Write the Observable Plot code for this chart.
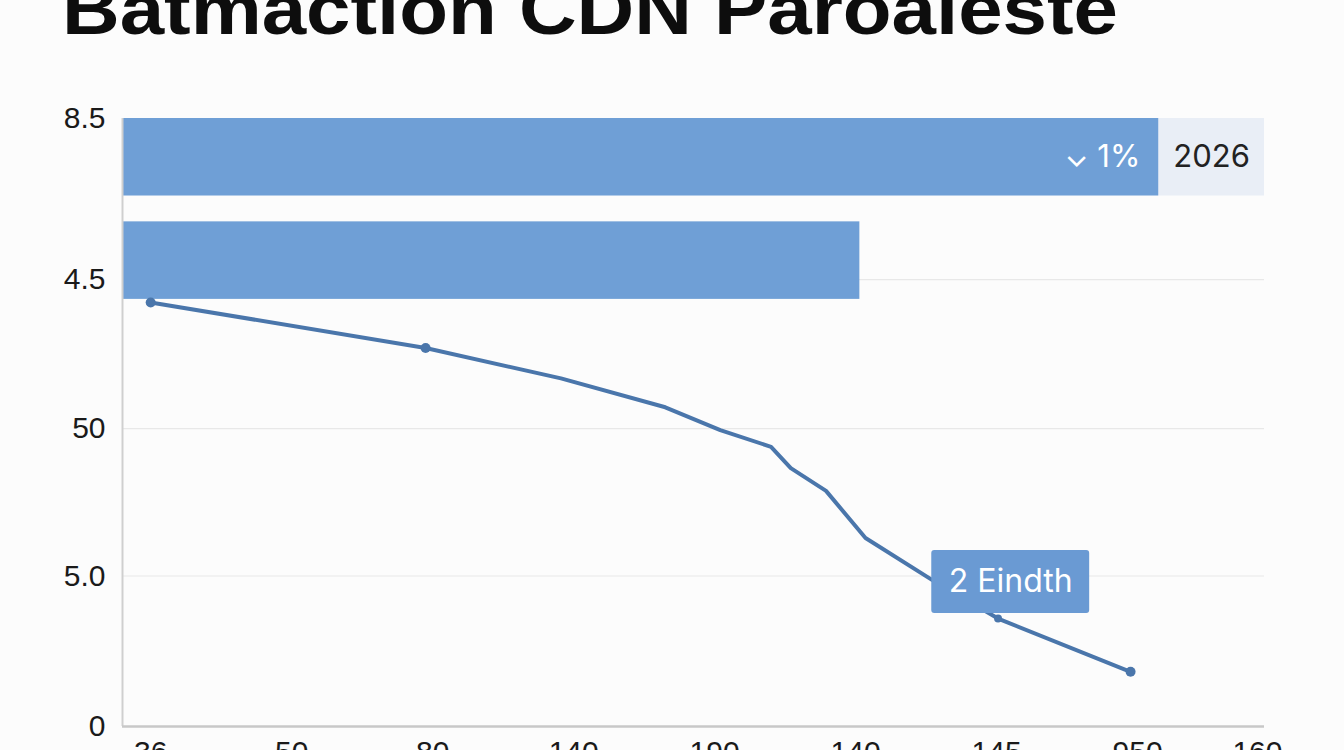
<!DOCTYPE html>
<html>
<head>
<meta charset="utf-8">
<script src="https://cdn.jsdelivr.net/npm/d3@7"></script>
<script src="https://cdn.jsdelivr.net/npm/@observablehq/plot@0.6"></script>
<style>
  html, body { margin: 0; padding: 0; background: #fcfcfc; overflow: hidden; width: 1344px; height: 750px; }
  #wrap { position: relative; width: 1344px; height: 750px; }
  #title { position: absolute; left: 0; top: 0; }
  #chart { position: absolute; left: 0; top: 90px; }
</style>
</head>
<body>
<div id="wrap">
  <svg id="title" width="1344" height="60">
    <text id="titleText" x="62" y="34" font-family="Liberation Sans, Arial, sans-serif" font-weight="bold" font-size="72" fill="#0d0d0d" textLength="1056" lengthAdjust="spacingAndGlyphs"></text>
  </svg>
  <div id="chart"></div>
</div>
<script>
// ---- data ----
const titleText = "Batmaction CDN Paroaleste";

// y axis: tick positions (axis units) and their printed labels
const yTickPos = [0, 0.99, 1.96, 2.94, 4];
const yTickLabels = ["0", "5.0", "50", "4.5", "8.5"];

// x axis: tick positions (axis units) and their printed labels
const xTickPos = [0, 1, 2, 3, 4, 5, 6, 7, 7.85];
const xTickLabels = ["36", "50", "80", "140", "190", "140", "145", "950", "160"];

// horizontal bars (end values in x axis units)
const barNames = ["2026", "second"];
const barEnds = [7.15, 5.03];
const barLabels = ["\u2304 1%", ""];
const barTag = "2026";

// line series
const lineX = [0, 1.95, 2.91, 3.65, 4.04, 4.40, 4.54, 4.79, 5.07, 5.55, 6.01, 6.95];
const lineY = [2.79, 2.49, 2.29, 2.10, 1.95, 1.84, 1.70, 1.55, 1.24, 0.96, 0.71, 0.36];
const dotIndex = [0, 1, 11];
const smallDotIndex = [10];

// annotation
const noteText = "2 Eindth";
const noteX = [5.54, 6.66];
const noteY = [0.743, 1.158];

// ---- build ----
document.getElementById("titleText").textContent = titleText;

const xMin = -0.2, xMax = 7.9, yMin = 0, yMax = 4;
const bandTop = i => yMax - i * 0.68;
const bandH = 0.51;

const bars = barNames.map((name, i) => ({
  name, x1: xMin, x2: barEnds[i], y1: bandTop(i) - bandH, y2: bandTop(i), label: barLabels[i]
}));
const tagBg = [{x1: barEnds[0], x2: xMax, y1: bars[0].y1, y2: bars[0].y2}];
const line = lineX.map((x, i) => ({x, y: lineY[i]}));
const dots = dotIndex.map(i => line[i]);
const smallDots = smallDotIndex.map(i => line[i]);
const note = [{x1: noteX[0], x2: noteX[1], y1: noteY[0], y2: noteY[1], text: noteText}];

const chart = Plot.plot({
  width: 1344,
  height: 700,
  marginLeft: 122,
  marginRight: 80,
  marginTop: 28,
  marginBottom: 64,
  x: {domain: [xMin, xMax]},
  y: {domain: [yMin, yMax]},
  style: {background: "transparent", fontFamily: "Liberation Sans, Arial, sans-serif", color: "#222"},
  marks: [
    Plot.ruleY(yTickPos.slice(1, 4), {stroke: "#e8e8e8", strokeWidth: 1.2}),
    Plot.rect(tagBg, {x1: "x1", x2: "x2", y1: "y1", y2: "y2", fill: "#e9eef6"}),
    Plot.rect(bars, {x1: "x1", x2: "x2", y1: "y1", y2: "y2", fill: "#6f9fd6"}),
    Plot.text(bars.filter(d => d.label), {
      x: d => d.x2 - 0.13, y: d => (d.y1 + d.y2) / 2, text: "label",
      textAnchor: "end", fill: "white", fontSize: 31, fontFamily: "Inter, DejaVu Sans, sans-serif"
    }),
    Plot.text(tagBg, {
      x: d => (d.x1 + d.x2) / 2, y: d => (d.y1 + d.y2) / 2, text: () => barTag,
      textAnchor: "middle", fill: "#222", fontSize: 31, fontFamily: "Inter, sans-serif"
    }),
    Plot.line(line, {x: "x", y: "y", stroke: "#4a76ab", strokeWidth: 4, strokeLinejoin: "round", strokeLinecap: "round"}),
    Plot.dot(dots, {x: "x", y: "y", r: 5, fill: "#4a76ab"}),
    Plot.dot(smallDots, {x: "x", y: "y", r: 4, fill: "#4a76ab"}),
    Plot.rect(note, {x1: "x1", x2: "x2", y1: "y1", y2: "y2", fill: "#6a9ad3", rx: 3}),
    Plot.text(note, {
      x: d => (d.x1 + d.x2) / 2, y: d => (d.y1 + d.y2) / 2, text: "text",
      fill: "white", fontSize: 32, fontFamily: "Inter, sans-serif"
    }),
    Plot.ruleX([xMin], {stroke: "#cfcfcf", strokeWidth: 2}),
    Plot.ruleY([yMin], {stroke: "#c8c8c8", strokeWidth: 2.5}),
    Plot.axisY({
      ticks: yTickPos, tickFormat: d => yTickLabels[yTickPos.indexOf(d)],
      tickSize: 0, tickPadding: 17, fontSize: 30, fill: "#1a1a1a"
    }),
    Plot.axisX({
      ticks: xTickPos, tickFormat: d => xTickLabels[xTickPos.indexOf(d)],
      tickSize: 0, tickPadding: 14, fontSize: 30, fill: "#1a1a1a"
    })
  ]
});
document.getElementById("chart").appendChild(chart);
</script>
</body>
</html>
